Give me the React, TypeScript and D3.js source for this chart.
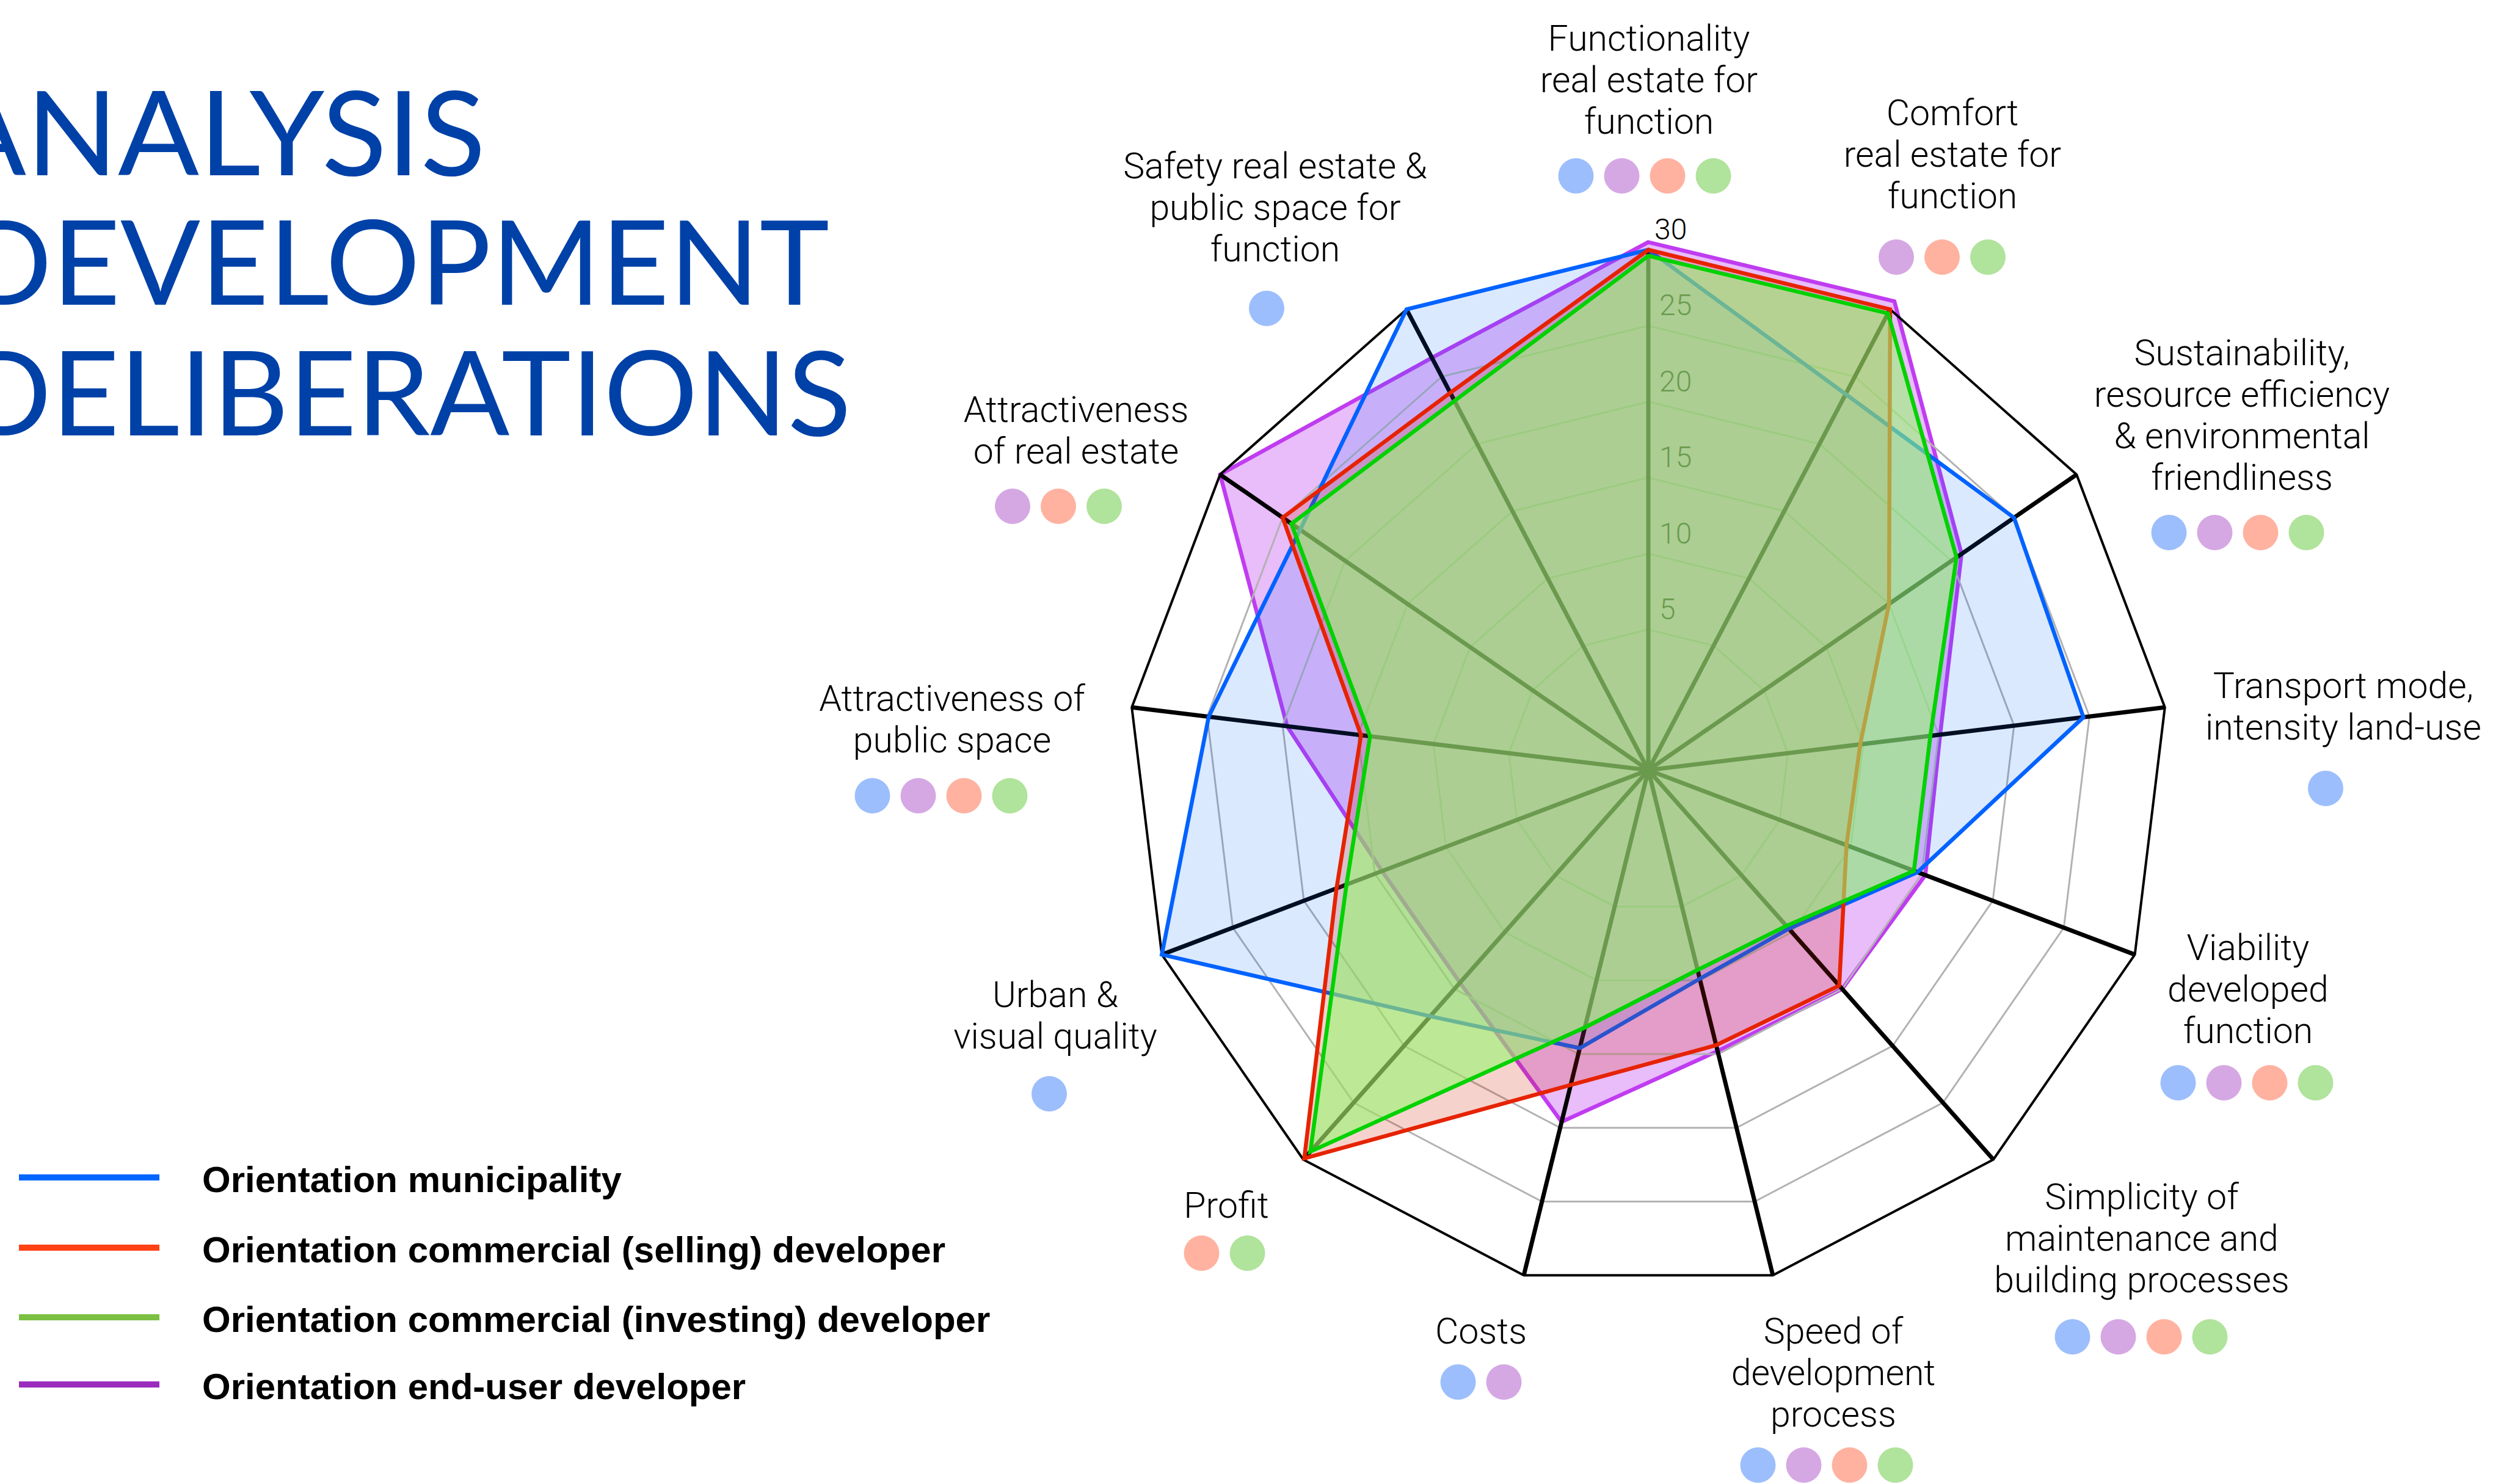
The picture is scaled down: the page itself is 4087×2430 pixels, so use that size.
import { useEffect, useRef } from 'react'
import * as d3 from 'd3'

const W = 4087
const H = 2430

// axis titles (clockwise from top), one entry per line
const axisLabels: string[][] = [
  ['Functionality', 'real estate for', 'function'],
  ['Comfort', 'real estate for', 'function'],
  ['Sustainability,', 'resource efficiency', '& environmental', 'friendliness'],
  ['Transport mode,', 'intensity land-use'],
  ['Viability', 'developed', 'function'],
  ['Simplicity of', 'maintenance and', 'building processes'],
  ['Speed of', 'development', 'process'],
  ['Costs'],
  ['Profit'],
  ['Urban &', 'visual quality'],
  ['Attractiveness of', 'public space'],
  ['Attractiveness', 'of real estate'],
  ['Safety real estate &', 'public space for', 'function'],
]

// which orientations care about each axis (b = municipality, p = end-user, s = selling, g = investing)
const relevance: string[][] = [
  ['b', 'p', 's', 'g'], ['p', 's', 'g'], ['b', 'p', 's', 'g'], ['b'],
  ['b', 'p', 's', 'g'], ['b', 'p', 's', 'g'], ['b', 'p', 's', 'g'], ['b', 'p'],
  ['s', 'g'], ['b'], ['b', 'p', 's', 'g'], ['p', 's', 'g'], ['b'],
]

const municipality = [30, 23.7, 25, 24.6, 14.7, 9.7, 9.9, 14.6, 17.4, 30, 24.9, 23.6, 30]
const selling = [30, 30, 15, 9.8, 9.7, 14.7, 14.4, 17.1, 29.9, 17.7, 14.8, 25, 23.8]
const investing = [29.6, 29.7, 20.4, 14.45, 14.45, 9.45, 9.3, 13.2, 29.3, 17, 14.2, 24.3, 23.2]
const endUser = [30.5, 30.6, 20.8, 15.1, 15.25, 15, 14.8, 19.6, 14.45, 14.5, 19.7, 30, 26.4]

const ticks = [5, 10, 15, 20, 25, 30]

const legendNames = [
  'Orientation municipality',
  'Orientation commercial (selling) developer',
  'Orientation commercial (investing) developer',
  'Orientation end-user developer',
]
const titleLines = ['ANALYSIS', 'DEVELOPMENT', 'DELIBERATIONS']

// layout: [text centre x, first baseline, dot-row centre x, dot-row y]
const labelPos = [
  [2700, 83, 2693, 288],
  [3197, 205, 3180, 421],
  [3671, 598, 3664, 872],
  [3837, 1143, 3808, 1291],
  [3681, 1572, 3679, 1773],
  [3507, 1980, 3506, 2189],
  [3002, 2200, 2991, 2399],
  [2425, 2200, 2425, 2263],
  [2008, 1994, 2005, 2052],
  [1728, 1649, 1718, 1791],
  [1559, 1164, 1541, 1303],
  [1762, 691, 1733, 829],
  [2088, 292, 2074, 505],
]
const titleLayout = [
  { x: -90, y: 287, len: 885 },
  { x: -62, y: 499, len: 1420 },
  { x: -62, y: 713, len: 1456 },
]
const legendY = [1928, 2043, 2157, 2267]

const dotColor: Record<string, string> = {
  b: '#9cbefc', p: '#d5a8e4', s: '#ffb2a0', g: '#b0e39b',
}

const LABEL_FONT = "'Helvetica Neue', Roboto, 'Liberation Sans', sans-serif"

export default function App() {
  const svgRef = useRef<SVGSVGElement>(null)

  useEffect(() => {
    document.body.style.margin = '0'
    if (!svgRef.current) return
    const svg = d3.select(svgRef.current)
    svg.selectAll('*').remove()

    const cx = 2699, cy = 1261
    const n = axisLabels.length
    const step = (2 * Math.PI) / n
    const r = d3.scaleLinear().domain([-4.25, 30]).range([0, 852])

    const radar = d3.lineRadial<number>()
      .angle((_, i) => i * step)
      .radius(d => r(d))
      .curve(d3.curveLinearClosed)

    const g = svg.append('g').attr('transform', `translate(${cx},${cy})`)

    const series = [
      { key: 'endUser', values: endUser, stroke: '#c03cf0', fill: 'rgb(192,64,240)', op: 0.35 },
      { key: 'municipality', values: municipality, stroke: '#0062ff', fill: 'rgb(0,96,255)', op: 0.14 },
      { key: 'selling', values: selling, stroke: '#e62300', fill: 'rgb(212,32,4)', op: 0.2 },
      { key: 'investing', values: investing, stroke: '#00d200', fill: 'rgb(151,246,111)', op: 0.6 },
    ]

    const drawSeries = (s: typeof series[number]) => {
      g.append('path')
        .attr('d', radar(s.values))
        .attr('fill', s.fill)
        .attr('fill-opacity', s.op)
        .attr('stroke', s.stroke)
        .attr('stroke-width', 6.5)
        .attr('stroke-linejoin', 'miter')
    }

    // end-user layer sits below the grid
    drawSeries(series[0])

    // grid
    const grid = g.append('g')
    ticks.slice(0, -1).forEach(t => {
      grid.append('path')
        .attr('d', radar(d3.range(n).map(() => t)))
        .attr('fill', 'none')
        .attr('stroke', '#b2b2b2')
        .attr('stroke-width', 3)
    })
    grid.selectAll('line.spoke')
      .data(d3.range(n))
      .join('line')
      .attr('x1', 0).attr('y1', 0)
      .attr('x2', i => r(30) * Math.sin(i * step))
      .attr('y2', i => -r(30) * Math.cos(i * step))
      .attr('stroke', '#000')
      .attr('stroke-width', 7)
    grid.append('path')
      .attr('d', radar(d3.range(n).map(() => 30)))
      .attr('fill', 'none')
      .attr('stroke', '#000')
      .attr('stroke-width', 4)
    grid.selectAll('text.tick')
      .data(ticks)
      .join('text')
      .attr('x', t => (t === 30 ? 10 : 18))
      .attr('y', t => -r(t) - 17)
      .attr('font-family', LABEL_FONT)
      .attr('font-weight', 300)
      .attr('font-size', 48)
      .attr('fill', '#000')
      .text(t => t)

    series.slice(1).forEach(drawSeries)

    // axis labels + relevance dots
    axisLabels.forEach((lines, i) => {
      const [tx, ty, dx, dy] = labelPos[i]
      const t = svg.append('text')
        .attr('text-anchor', 'middle')
        .attr('font-family', LABEL_FONT)
        .attr('font-weight', 300)
        .attr('font-size', 59)
        .attr('fill', '#000')
      lines.forEach((ln, k) => {
        t.append('tspan').attr('x', tx).attr('y', ty + k * 68).text(ln)
      })
      const keys = relevance[i]
      svg.selectAll(null)
        .data(keys)
        .join('circle')
        .attr('cx', (_, k) => dx + (k - (keys.length - 1) / 2) * 75)
        .attr('cy', dy)
        .attr('r', 29)
        .attr('fill', d => dotColor[d])
    })

    // title
    titleLines.forEach((line, i) => {
      const l = titleLayout[i]
      svg.append('text')
        .attr('x', l.x)
        .attr('y', l.y)
        .attr('textLength', l.len)
        .attr('lengthAdjust', 'spacingAndGlyphs')
        .attr('font-family', "Lato, 'Noto Sans', sans-serif")
        .attr('font-weight', 400)
        .attr('font-size', 193)
        .attr('fill', '#0041a8')
        .text(line)
    })

    // legend
    const legendColors = ['#0066ff', '#ff4214', '#7bc043', '#9a2dbd']
    legendNames.forEach((name, i) => {
      const y = legendY[i]
      svg.append('line')
        .attr('x1', 31).attr('x2', 261)
        .attr('y1', y).attr('y2', y)
        .attr('stroke', legendColors[i])
        .attr('stroke-width', 10)
      svg.append('text')
        .attr('x', 331)
        .attr('y', y + 24)
        .attr('font-family', "'Liberation Sans', Arial, sans-serif")
        .attr('font-weight', 700)
        .attr('font-size', 60)
        .attr('fill', '#000')
        .text(name)
    })
  }, [])

  return (
    <svg
      ref={svgRef}
      width={W}
      height={H}
      style={{ display: 'block', background: '#fff' }}
    />
  )
}
